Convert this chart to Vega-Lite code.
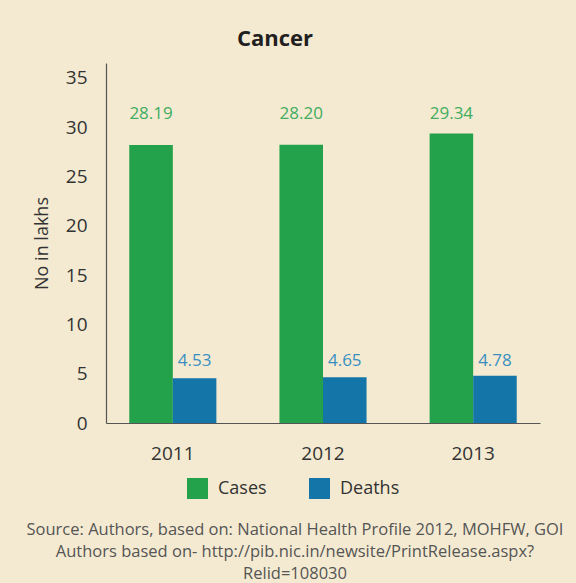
{
  "$schema": "https://vega.github.io/schema/vega-lite/v6.json",
  "autosize": "none",
  "width": 434,
  "height": 360,
  "padding": {"left": 106, "top": 63, "right": 36, "bottom": 160},
  "background": "#f4ead1",
  "config": {"font": "Open Sans", "view": {"stroke": null}},
  "title": {"text": "Cancer", "fontSize": 22, "fontWeight": "bold", "color": "#231f20", "anchor": "middle", "dx": -48, "offset": 12},
  "data": {"values": [
    {"year": "2011", "series": "Cases", "value": 28.19},
    {"year": "2011", "series": "Deaths", "value": 4.53},
    {"year": "2012", "series": "Cases", "value": 28.20},
    {"year": "2012", "series": "Deaths", "value": 4.65},
    {"year": "2013", "series": "Cases", "value": 29.34},
    {"year": "2013", "series": "Deaths", "value": 4.78}
  ]},
  "encoding": {
    "x": {"field": "year", "type": "nominal",
      "scale": {"paddingInner": 0.42, "paddingOuter": 0.155},
      "axis": {"labelAngle": 0, "ticks": false, "tickSize": 0, "labelPadding": 21, "labelFontSize": 19, "labelColor": "#333333",
        "domainColor": "#555555", "domainWidth": 1.2,
        "title": ["Source: Authors, based on: National Health Profile 2012, MOHFW, GOI", "Authors based on- http://pib.nic.in/newsite/PrintRelease.aspx?", "Relid=108030"],
        "titleFontSize": 16.5, "titleFontWeight": "normal", "titleColor": "#555555", "titleLineHeight": 22,
        "titleX": 188.5, "titleY": 98, "titleAlign": "center", "titleBaseline": "top"}},
    "xOffset": {"field": "series", "type": "nominal", "scale": {"paddingInner": 0, "paddingOuter": 0}}
  },
  "layer": [
    {
      "mark": {"type": "bar"},
      "encoding": {
        "y": {"field": "value", "type": "quantitative",
          "scale": {"domain": [0, 36.5], "nice": false},
          "axis": {"values": [0, 5, 10, 15, 20, 25, 30, 35], "grid": false, "ticks": false, "tickSize": 0, "labelPadding": 19,
            "labelFontSize": 19, "labelColor": "#333333", "domainColor": "#555555", "domainWidth": 1.2,
            "title": "No in lakhs", "titleFontSize": 18, "titleFontWeight": "normal", "titleColor": "#333333", "titlePadding": 14}},
        "color": {"field": "series", "type": "nominal",
          "scale": {"domain": ["Cases", "Deaths"], "range": ["#24a14b", "#1476a8"]},
          "legend": {"title": null, "orient": "none", "legendX": 81, "legendY": 415, "direction": "horizontal",
            "symbolType": "square", "symbolSize": 441, "symbolStrokeWidth": 0, "symbolOpacity": 1,
            "labelFontSize": 18, "labelColor": "#333333", "labelOffset": 10, "columnPadding": 42, "padding": 0}}
      }
    },
    {
      "transform": [{"filter": "datum.series === 'Cases'"}],
      "mark": {"type": "text", "fontSize": 17, "color": "#41ad5f", "baseline": "middle"},
      "encoding": {
        "y": {"datum": 31.3, "type": "quantitative"},
        "text": {"field": "value", "type": "quantitative", "format": ".2f"}
      }
    },
    {
      "transform": [{"filter": "datum.series === 'Deaths'"}],
      "mark": {"type": "text", "fontSize": 17, "color": "#3a8fc2", "baseline": "middle"},
      "encoding": {
        "y": {"datum": 6.3, "type": "quantitative"},
        "text": {"field": "value", "type": "quantitative", "format": ".2f"}
      }
    }
  ]
}
